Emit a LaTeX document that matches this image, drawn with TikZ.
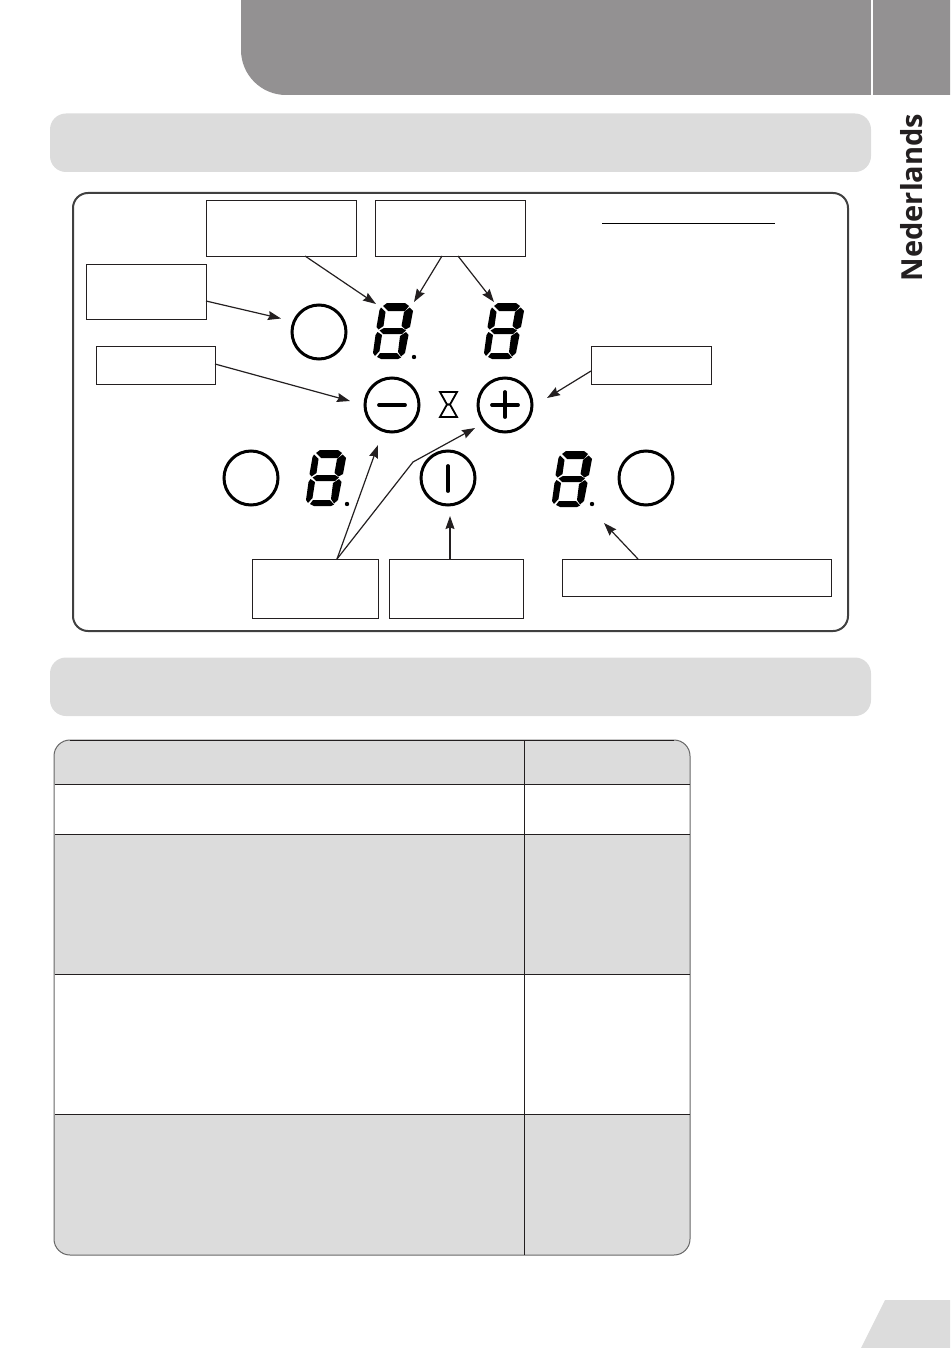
\documentclass[tikz,border=0pt]{standalone}
\usepackage{fontspec}
\setsansfont{Open Sans}
\usetikzlibrary{arrows.meta}
\definecolor{headgray}{HTML}{939192}
\definecolor{palegray}{HTML}{DCDCDC}
\definecolor{inkgray}{HTML}{231F20}
\tikzset{x=1pt, y=-1pt,
         labelbox/.style={draw=inkgray, line width=1pt, inner sep=0pt, outer sep=0pt},
         dial/.style={circle, draw=black, line width=3pt, minimum size=54pt, inner sep=0pt, outer sep=0pt},
         pointer/.style={draw=inkgray, line width=1.2pt, -{Stealth[length=13pt, width=9pt, inset=1.5pt]}},
         glyphbar/.style={draw=black, line width=3.8pt, line cap=round},
         banner/.style={fill=palegray, rounded corners=16pt},
         digit/.pic={
           \fill[black] (14,0) -- (32,0) -- (36,3) -- (32,8) -- (15,8) -- (10,3) -- cycle;
           \fill[black] (8,4.5) -- (12.5,9) -- (10.5,23) -- (5.5,26.5) -- (3.5,24) -- (6.5,7) -- cycle;
           \fill[black] (36.5,4.5) -- (40,8) -- (37,24) -- (32.5,26.5) -- (28.5,23) -- (31,9) -- cycle;
           \fill[black] (6.5,27.5) -- (11,25) -- (29,25) -- (33,27.5) -- (29,31) -- (10,31) -- cycle;
           \fill[black] (4.5,29) -- (9,32) -- (6.5,48) -- (2,53) -- (0,50) -- (2.5,32) -- cycle;
           \fill[black] (33,29) -- (35.5,32) -- (32,50) -- (28,53.5) -- (25,49) -- (27,33) -- cycle;
           \fill[black] (7,50) -- (24,50) -- (28,54.5) -- (25,56) -- (8,56) -- (4,54) -- cycle;
         }}

\begin{document}
\begin{tikzpicture}
    \useasboundingbox (0,0) rectangle (950,1348);

    \fill[headgray] (241,0) -- (950,0) -- (950,95) -- (286,95) arc[start angle=90, end angle=180, radius=45] -- cycle;
    \draw[white, line width=2pt] (872,0) -- (872,95);
    \fill[banner] (50,113.5) rectangle (871,172);
    \fill[banner] (50,657.5) rectangle (871,716);
    \fill[palegray] (885,1300) -- (950,1300) -- (950,1348) -- (861,1348) -- cycle;
    \node[rotate=90, font=\sffamily\bfseries\fontsize{29}{29}\selectfont, text=inkgray, anchor=base] (language) at (922,197.5) {Nederlands};

    \draw[draw=black!75, line width=2pt, rounded corners=15pt] (73,193) rectangle (848,631);
    \draw[black, line width=1pt] (602,224) -- (775,224);

    \node[labelbox, minimum width=150pt, minimum height=55pt] (boxsingle) at (281,228.5) {};
    \node[labelbox, minimum width=150pt, minimum height=55pt] (boxdouble) at (450,228.5) {};
    \node[labelbox, minimum width=120pt, minimum height=55pt] (boxtop) at (146,291.5) {};
    \node[labelbox, minimum width=119pt, minimum height=38pt] (boxminus) at (155.5,365) {};
    \node[labelbox, minimum width=120pt, minimum height=38pt] (boxplus) at (651,365) {};
    \node[labelbox, minimum width=126pt, minimum height=59pt] (boxtimer) at (315,588.5) {};
    \node[labelbox, minimum width=134pt, minimum height=59pt] (boxpower) at (456,588.5) {};
    \node[labelbox, minimum width=269pt, minimum height=37pt] (boxzone) at (696.5,577.5) {};

    \node[dial] (dialtop) at (319,332) {};
    \node[dial] (dialminus) at (392,405) {};
    \node[dial] (dialplus) at (505,405) {};
    \node[dial] (dialleft) at (251,478) {};
    \node[dial] (dialpower) at (448,478) {};
    \node[dial] (dialright) at (646,478) {};

    \draw[glyphbar] ([xshift=-13pt]dialminus.center) -- ([xshift=13pt]dialminus.center);
    \draw[glyphbar] ([xshift=-13pt]dialplus.center) -- ([xshift=13pt]dialplus.center);
    \draw[glyphbar] ([yshift=-12pt]dialplus.center) -- ([yshift=13pt]dialplus.center);
    \draw[glyphbar] ([yshift=12pt]dialpower.center) -- ([yshift=-13pt]dialpower.center);
    \draw[black, line width=1.8pt] (440,392) -- (457,392) -- (450,404.5) -- (447,404.5) -- cycle;
    \draw[black, line width=1.8pt] (447,404.5) -- (450,404.5) -- (457,417) -- (440,417) -- cycle;

    \pic at (373,303) {digit};
    \pic at (484,303) {digit};
    \pic at (306,450) {digit};
    \pic at (552,451) {digit};
    \fill[black] (414,357) circle (2.2pt);
    \fill[black] (347,504) circle (2.2pt);
    \fill[black] (592,504) circle (2.2pt);

    \coordinate (tipsingle) at (376,304);
    \coordinate (tipdoublea) at (414,302);
    \coordinate (tipdoubleb) at (494,302);
    \coordinate (tiptop) at (281,318.5);
    \coordinate (tipminus) at (350,401);
    \coordinate (tipplus) at (547,398);
    \coordinate (tiptimera) at (378,445);
    \coordinate (bendtimer) at (413,462);
    \coordinate (tiptimerb) at (475,428);
    \coordinate (tippower) at (450,516);
    \coordinate (tipzone) at (604,523);

    \draw[pointer] ([xshift=24pt]boxsingle.south) -- (tipsingle);
    \draw[pointer] ([xshift=-8pt]boxdouble.south) -- (tipdoublea);
    \draw[pointer] ([xshift=8pt]boxdouble.south) -- (tipdoubleb);
    \draw[pointer] ([yshift=-9.5pt]boxtop.east) -- (tiptop);
    \draw[pointer] ([yshift=1pt]boxminus.east) -- (tipminus);
    \draw[pointer] ([yshift=-6pt]boxplus.west) -- (tipplus);
    \draw[pointer] ([xshift=22pt]boxtimer.north) -- (tiptimera);
    \draw[pointer] ([xshift=22pt]boxtimer.north) -- (bendtimer) -- (tiptimerb);
    \draw[pointer] ([xshift=-6pt]boxpower.north) -- (tippower);
    \draw[pointer] ([xshift=-58.5pt]boxzone.north) -- (tipzone);

    \begin{scope}
      \clip[rounded corners=16pt] (54,740) rectangle (690,1255);
      \fill[palegray] (54,740) rectangle (690,784.5);
      \fill[palegray] (54,834.5) rectangle (690,974.5);
      \fill[palegray] (54,1114.5) rectangle (690,1255);
    \end{scope}
    \draw[black!60, line width=1pt, rounded corners=16pt] (54,740) rectangle (690,1255);
    \draw[inkgray, line width=1pt] (70,740) -- (674,740);
    \foreach \rowy in {784.5,834.5,974.5,1114.5}
      \draw[inkgray, line width=1pt] (54.5,\rowy) -- (689.5,\rowy);
    \draw[inkgray, line width=1pt] (524.5,740) -- (524.5,1255);
\end{tikzpicture}
\end{document}
